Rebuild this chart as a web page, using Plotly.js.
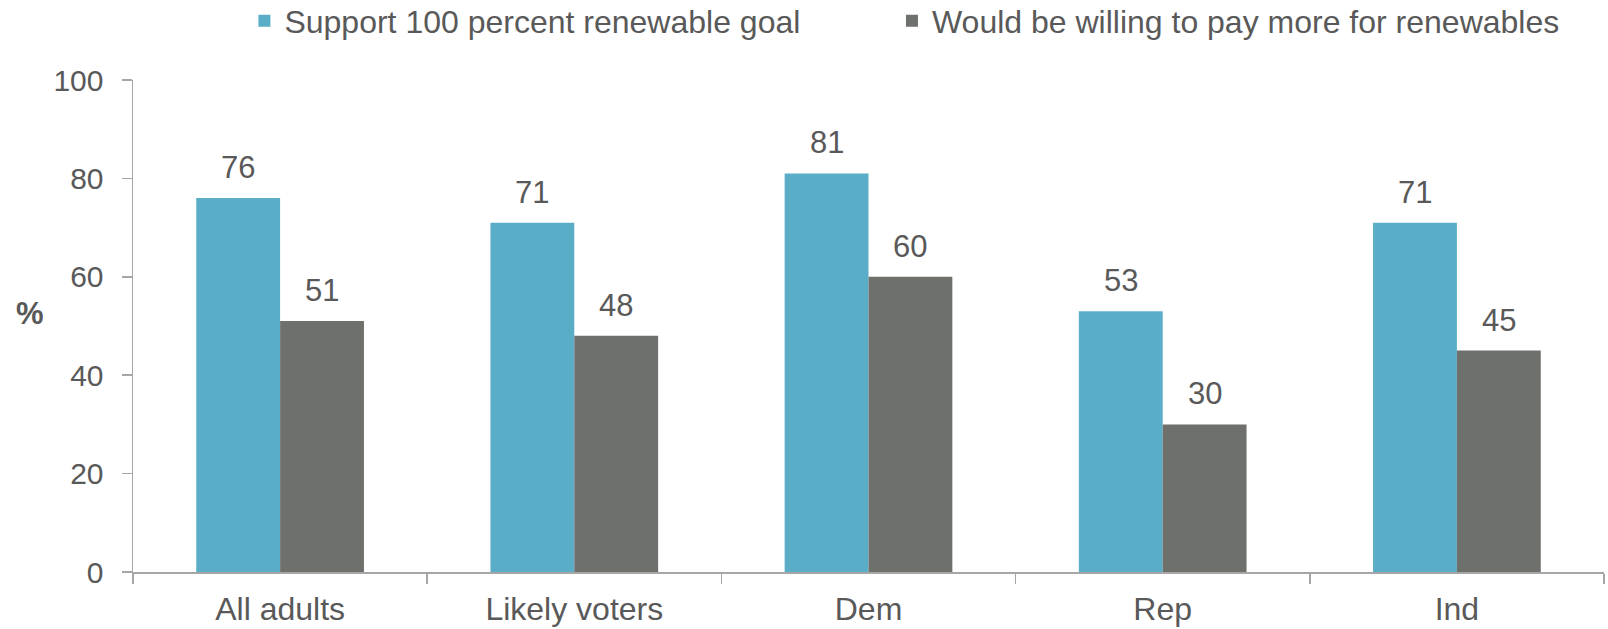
<!DOCTYPE html>
<html>
<head>
<meta charset="utf-8">
<script src="https://cdn.plot.ly/plotly-3.0.1.min.js"></script>
<style>html,body{margin:0;padding:0;background:#fff;}#chart{width:1608px;height:629px;}</style>
</head>
<body>
<div id="chart"></div>
<script>
const categories = ["All adults", "Likely voters", "Dem", "Rep", "Ind"];
const seriesNames = ["Support 100 percent renewable goal", "Would be willing to pay more for renewables"];
const supportGoal = [76, 71, 81, 53, 71];
const willingToPay = [51, 48, 60, 30, 45];
const yTicks = [0, 20, 40, 60, 80, 100];

const textColor = "#595959";
const fontFam = "Liberation Sans, Arial, sans-serif";
const W = 1608, H = 629;
const margin = {l: 133, r: 4, t: 80, b: 57};
const bargap = 0.43;

const seriesValues = [supportGoal, willingToPay];
const traces = [
  {type: "bar", name: seriesNames[0], x: categories, y: supportGoal, marker: {color: "#5AADC6"}, legend: "legend"},
  {type: "bar", name: seriesNames[1], x: categories, y: willingToPay, marker: {color: "#6E706C"}, legend: "legend2"}
];

// value labels above each bar, offset by half the computed bar width
const catWidthPx = (W - margin.l - margin.r) / categories.length;
const barWidthPx = catWidthPx * (1 - bargap) / seriesValues.length;
const annotations = [];
seriesValues.forEach((vals, i) => {
  vals.forEach((v, j) => {
    annotations.push({
      x: categories[j], y: v, xref: "x", yref: "y", text: String(v), showarrow: false,
      xanchor: "center", yanchor: "bottom",
      xshift: (i - (seriesValues.length - 1) / 2) * barWidthPx, yshift: 11,
      font: {size: 31, color: textColor}
    });
  });
});
annotations.push({text: "<b>%</b>", xref: "paper", yref: "paper", x: -0.070, y: 0.525,
                  xanchor: "center", yanchor: "middle", showarrow: false,
                  font: {size: 31, color: textColor}});

const legendBase = {orientation: "h", xref: "container", yref: "container", xanchor: "left",
                    y: 0.9666, yanchor: "middle", font: {size: 32, color: textColor},
                    itemwidth: 30, tracegroupgap: 0, bgcolor: "rgba(0,0,0,0)"};

const layout = {
  width: W, height: H,
  margin: margin,
  paper_bgcolor: "#fff", plot_bgcolor: "#fff",
  font: {family: fontFam, size: 31, color: textColor},
  barmode: "group", bargap: bargap, bargroupgap: 0,
  showlegend: true,
  legend: Object.assign({}, legendBase, {x: 0.152}),
  legend2: Object.assign({}, legendBase, {x: 0.5547}),
  xaxis: {type: "category", showline: true, linecolor: "#A6A6A6", linewidth: 1.5,
          ticks: "outside", tickson: "boundaries", ticklen: 10, tickcolor: "#A6A6A6", tickwidth: 1.5,
          showgrid: false, zeroline: false, ticklabelstandoff: 8,
          tickfont: {size: 32, color: textColor}},
  yaxis: {range: [0, 100], tickvals: yTicks, ticktext: yTicks.map(String), showline: true,
          linecolor: "#A6A6A6", linewidth: 1.5, ticks: "outside", ticklen: 10, tickcolor: "#A6A6A6",
          tickwidth: 1.5, showgrid: false, zeroline: false, ticklabelstandoff: 12,
          tickfont: {size: 30, color: textColor}},
  annotations: annotations
};

Plotly.newPlot("chart", traces, layout, {displayModeBar: false, staticPlot: true});
</script>
</body>
</html>
